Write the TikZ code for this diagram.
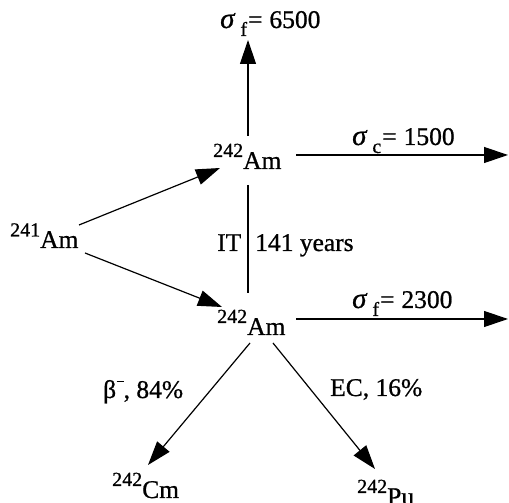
\documentclass[tikz,border=0pt]{standalone}
\usepackage{fontspec}
\setmainfont[FakeBold=0.8]{Liberation Serif}
\usetikzlibrary{arrows.meta,calc}
\newcommand{\iso}[3][12pt]{\raisebox{#1}{\fontsize{20}{22}\selectfont #2}#3}
\newcommand{\sigl}[2]{{\fontsize{29}{30}\selectfont\textit{σ}}\hspace{5pt}\raisebox{-8pt}{\fontsize{20}{22}\selectfont #1}\hspace{1pt}=\hspace{7pt}#2}
\begin{document}
\begin{tikzpicture}[x=1pt,y=1pt,
  txt/.style={inner sep=0pt,anchor=base west,font=\fontsize{25.5}{30}\selectfont},
  arr/.style={line width=1.2pt,-{Triangle[length=24pt,width=16pt]}},
  ln/.style={line width=1.2pt}]
\useasboundingbox (0,0) rectangle (509,503);
\clip (0,0) rectangle (509,503);
% nodes
\node[txt] (a241) at (10,255) {\iso[11.5pt]{241}{Am}};
\node[txt] (u) at (213,334) {\iso{242}{Am}};
\node[txt] (l) at (217,168) {\iso{242}{Am}};
\node[txt] (cm) at (112,5) {\iso{242}{Cm}};
\node[txt] (pu) at (357,-2) {\iso{242}{Pu}};
\node[txt] (f1) at (220,475) {\sigl{f}{6500}};
\node[txt] (c1) at (352,358) {\sigl{c}{1500}};
\node[txt] (f2) at (352,195) {\sigl{f}{2300}};
\node[txt] (it) at (217,252) {IT};
\node[txt] (yr) at (255,252) {141 years};
\node[txt] (beta) at (103,105) {β\hspace{0.5pt}\rule[16pt]{7pt}{1.3pt}, 84\%};
\node[txt] (ec) at (330,107) {EC, 16\%};
\coordinate (e1) at (508,348);
\coordinate (e2) at (508,184);
% connectors
\draw[arr] ($(a241.base west)+(69,23)$) -- ($(u.base west)+(7,1)$);
\draw[arr] ($(a241.base west)+(75,-5)$) -- ($(l.base west)+(5,28)$);
\draw[arr] ($(u.base west)+(35,33)$) -- ($(f1.base west)+(28,-12)$);
\draw[arr] ($(u.base west)+(83,14)$) -- (e1);
\draw[ln] ($(u.base west)+(35,-16)$) -- ($(l.base west)+(31,42)$);
\draw[arr] ($(l.base west)+(79,16)$) -- (e2);
\draw[arr] ($(l.base west)+(33,-8)$) -- ($(cm.base west)+(36,33)$);
\draw[arr] ($(l.base west)+(56,-8)$) -- ($(pu.base west)+(18,36)$);
\end{tikzpicture}
\end{document}
